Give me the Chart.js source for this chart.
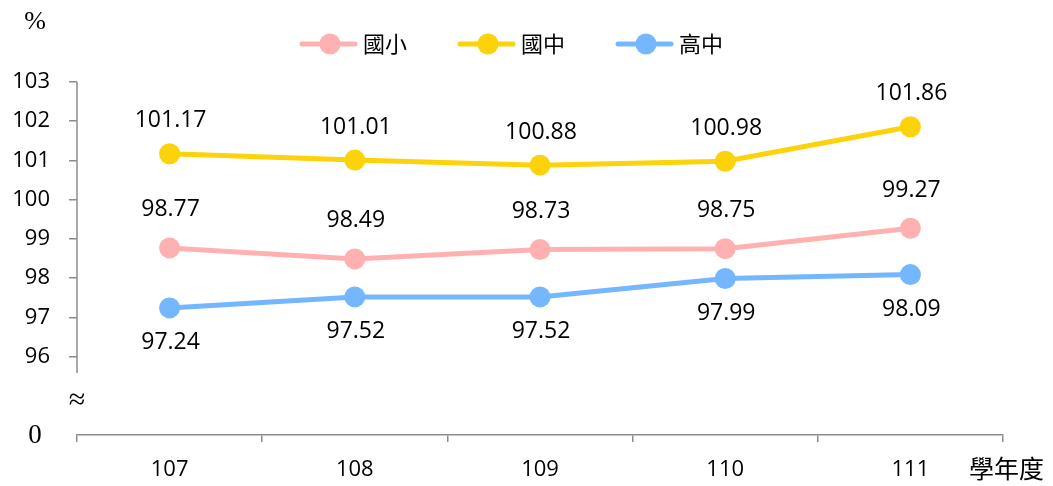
<!DOCTYPE html>
<html>
<head>
<meta charset="utf-8">
<script src="https://cdn.jsdelivr.net/npm/chart.js@4/dist/chart.umd.min.js"></script>
<style>
    html, body { margin: 0; padding: 0; background: #fff; }
</style>
</head>
<body>
<canvas id="ratioChart" width="1053" height="486"></canvas>
<script>
// 學年度
const years = ['107', '108', '109', '110', '111'];
// 各級學校數值 (%)
const elementary = [98.77, 98.49, 98.73, 98.75, 99.27];
const juniorHigh = [101.17, 101.01, 100.88, 100.98, 101.86];
const seniorHigh = [97.24, 97.52, 97.52, 97.99, 98.09];
const seriesNames = ['國小', '國中', '高中'];
// 縱軸刻度 (94 位置畫成 0，中間斷軸)
const yShown = [96, 97, 98, 99, 100, 101, 102, 103];

const colors = ['#FFB1B1', '#FCD20B', '#74B7FE'];
const axisColor = '#8c8c8c';
const numFont = '"Open Sans", "Noto Sans", sans-serif';

// 圖例用的「線 + 圓點」圖示
function legendIcon(color) {
    const c = document.createElement('canvas');
    c.width = 84;
    c.height = 24;
    const g = c.getContext('2d');
    g.strokeStyle = color;
    g.lineWidth = 5;
    g.lineCap = 'round';
    g.beginPath();
    g.moveTo(28, 12);
    g.lineTo(81, 12);
    g.stroke();
    g.fillStyle = color;
    g.beginPath();
    g.arc(56, 12, 10.5, 0, Math.PI * 2);
    g.fill();
    return c;
}

// 數據標籤
const valueLabels = {
    id: 'valueLabels',
    afterDatasetsDraw(chart) {
        const ctx = chart.ctx;
        const offsets = [-38, -33, 35];
        ctx.save();
        ctx.font = '23px ' + numFont;
        ctx.fillStyle = '#000';
        ctx.textAlign = 'center';
        ctx.textBaseline = 'middle';
        chart.data.datasets.forEach((ds, i) => {
            chart.getDatasetMeta(i).data.forEach((pt, j) => {
                ctx.fillText(ds.data[j].toFixed(2), pt.x + 1, pt.y + offsets[i]);
            });
        });
        ctx.restore();
    }
};

// 斷軸、單位等
const axisExtras = {
    id: 'axisExtras',
    afterDraw(chart) {
        const { ctx, chartArea, scales: { y } } = chart;
        ctx.save();
        ctx.strokeStyle = axisColor;
        ctx.lineWidth = 1.5;
        ctx.beginPath();
        ctx.moveTo(chartArea.left, y.getPixelForValue(103));
        ctx.lineTo(chartArea.left, y.getPixelForValue(95.58));
        ctx.stroke();

        ctx.fillStyle = '#000';
        ctx.textAlign = 'center';
        ctx.textBaseline = 'middle';
        ctx.font = '26px "Liberation Serif", serif';
        ctx.fillText('%', 35, 22);
        ctx.font = '27px "Liberation Serif", serif';
        ctx.fillText('0', 35, y.getPixelForValue(94) + 1);
        ctx.font = '30px "Liberation Serif", serif';
        ctx.fillText('≈', chartArea.left, y.getPixelForValue(94.86));
        ctx.textAlign = 'left';
        ctx.font = '25px "Noto Sans CJK TC", sans-serif';
        ctx.fillText('學年度', 969, 468);
        ctx.restore();
    }
};

const ctx = document.getElementById('ratioChart').getContext('2d');
const chart = new Chart(ctx, {
    type: 'line',
    data: {
        labels: years,
        datasets: [elementary, juniorHigh, seniorHigh].map((d, i) => ({
            label: seriesNames[i],
            data: d,
            borderColor: colors[i],
            backgroundColor: colors[i],
            borderWidth: 5,
            pointRadius: 10.5,
            pointHoverRadius: 10.5,
            pointBorderWidth: 0,
            tension: 0
        }))
    },
    options: {
        responsive: false,
        animation: false,
        layout: { padding: { top: 2, right: 50, left: 0, bottom: 0 } },
        scales: {
            x: {
                offset: true,
                grid: {
                    offset: true,
                    drawOnChartArea: false,
                    tickLength: 7,
                    color: axisColor,
                    lineWidth: 1.5
                },
                border: { color: axisColor, width: 1.5 },
                ticks: {
                    color: '#000',
                    font: { family: numFont, size: 22 },
                    padding: 15
                },
                afterFit(scale) { scale.height = 51; }
            },
            y: {
                min: 94,
                max: 103,
                grid: {
                    drawOnChartArea: false,
                    tickLength: 8,
                    lineWidth: 1.5,
                    color: c => (yShown.includes(c.tick.value) ? axisColor : 'rgba(0,0,0,0)')
                },
                border: { display: false },
                ticks: {
                    stepSize: 1,
                    color: '#000',
                    padding: 19,
                    font: { family: numFont, size: 22 },
                    callback: v => (yShown.includes(v) ? v : '')
                },
                afterFit(scale) { scale.width = 77; }
            }
        },
        plugins: {
            // 空白標題當作圖例與繪圖區之間的間距
            title: {
                display: true,
                text: '',
                weight: 500,
                font: { size: 10 },
                padding: { top: 0, bottom: 5 }
            },
            legend: {
                position: 'top',
                labels: {
                    usePointStyle: true,
                    pointStyleWidth: 72,
                    padding: 31,
                    color: '#000',
                    font: { family: '"Noto Sans CJK TC", sans-serif', size: 22 },
                    generateLabels: ch => ch.data.datasets.map((ds, i) => ({
                        text: ds.label,
                        pointStyle: legendIcon(colors[i]),
                        fillStyle: colors[i],
                        strokeStyle: colors[i],
                        lineWidth: 0,
                        hidden: false,
                        datasetIndex: i
                    }))
                }
            },
            tooltip: { enabled: false }
        }
    },
    plugins: [valueLabels, axisExtras]
});
</script>
</body>
</html>
